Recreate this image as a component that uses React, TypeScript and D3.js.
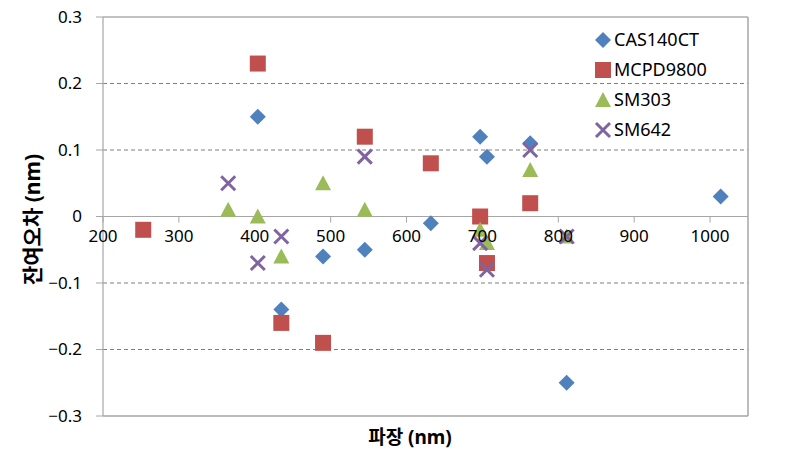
import React from "react";
import * as d3 from "d3";

const seriesNames = ["CAS140CT", "MCPD9800", "SM303", "SM642"];
const seriesColors = ["#4F81BD", "#C0504D", "#9BBB59", "#8064A2"];
const seriesShapes = ["diamond", "square", "triangle", "cross"];

const casX = [404, 435, 490, 545, 632, 697, 706, 763, 811, 1014];
const casY = [0.15, -0.14, -0.06, -0.05, -0.01, 0.12, 0.09, 0.11, -0.25, 0.03];
const mcpdX = [253, 404, 435, 490, 545, 632, 697, 706, 763];
const mcpdY = [-0.02, 0.23, -0.16, -0.19, 0.12, 0.08, 0.0, -0.07, 0.02];
const sm303X = [365, 404, 435, 490, 545, 697, 706, 763, 811];
const sm303Y = [0.01, 0.0, -0.06, 0.05, 0.01, -0.02, -0.04, 0.07, -0.03];
const sm642X = [365, 404, 435, 545, 697, 706, 763, 811];
const sm642Y = [0.05, -0.07, -0.03, 0.09, -0.04, -0.08, 0.1, -0.03];

const xTicks = [200, 300, 400, 500, 600, 700, 800, 900, 1000];
const yTicks = [-0.3, -0.2, -0.1, 0, 0.1, 0.2, 0.3];
const xTitle = "파장 (nm)";
const yTitle = "잔여오차 (nm)";

const W = 787;
const H = 463;
const left = 103, right = 748, top = 17, bottom = 416;

function Marker({ shape, color, cx, cy }: { shape: string; color: string; cx: number; cy: number }) {
  if (shape === "diamond") {
    const r = 8;
    return <path d={`M${cx},${cy - r}L${cx + r},${cy}L${cx},${cy + r}L${cx - r},${cy}Z`} fill={color} />;
  }
  if (shape === "square") {
    const r = 8;
    return <rect x={cx - r} y={cy - r} width={2 * r} height={2 * r} fill={color} />;
  }
  if (shape === "triangle") {
    const hw = 8;
    return <path d={`M${cx},${cy - 8}L${cx + hw},${cy + 7}L${cx - hw},${cy + 7}Z`} fill={color} />;
  }
  const r = 7;
  return (
    <path
      d={`M${cx - r},${cy - r}L${cx + r},${cy + r}M${cx - r},${cy + r}L${cx + r},${cy - r}`}
      stroke={color}
      strokeWidth={3}
      fill="none"
    />
  );
}

export default function App() {
  const x = d3.scaleLinear().domain([200, 1050]).range([left, right]);
  const y = d3.scaleLinear().domain([-0.3, 0.3]).range([bottom, top]);
  const xs = [casX, mcpdX, sm303X, sm642X];
  const ys = [casY, mcpdY, sm303Y, sm642Y];
  const font = "'Noto Sans', 'Noto Sans CJK KR', sans-serif";
  const fmt = (v: number) => (Math.abs(v) < 1e-9 ? "0" : d3.format(".1f")(v));
  const y0 = y(0);

  return (
    <svg width={W} height={H} style={{ position: "fixed", left: 0, top: 0, background: "#fff" }} fontFamily={font}>
      <rect x={0} y={0} width={W} height={H} fill="#fff" />
      {/* gridlines */}
      {yTicks.filter((t) => t !== 0 && Math.abs(t) < 0.29).map((t) => (
        <line key={"g" + t} x1={left} x2={right} y1={y(t)} y2={y(t)} stroke="#7f7f7f" strokeWidth={1} strokeDasharray="4,3" />
      ))}
      <line x1={left} x2={right} y1={y(0.3)} y2={y(0.3)} stroke="#868686" strokeWidth={1.2} />
      <line x1={left} x2={right} y1={y(-0.3)} y2={y(-0.3)} stroke="#a6a6a6" strokeWidth={1.5} />
      <line x1={right} x2={right} y1={top} y2={bottom} stroke="#a6a6a6" strokeWidth={1.5} />
      {/* y axis */}
      <line x1={left} x2={left} y1={top} y2={bottom} stroke="#a6a6a6" strokeWidth={1.2} />
      {yTicks.map((t) => (
        <g key={"yt" + t}>
          <line x1={left - 7} x2={left} y1={y(t)} y2={y(t)} stroke="#a6a6a6" strokeWidth={1} />
          <text x={82} y={y(t)} dy="0.35em" textAnchor="end" fontSize={17} fill="#000">
            {fmt(t)}
          </text>
        </g>
      ))}
      {/* x axis at 0 */}
      <line x1={left} x2={right} y1={y0} y2={y0} stroke="#a6a6a6" strokeWidth={1.2} />
      {xTicks.map((t) => (
        <line key={"xt" + t} x1={x(t)} x2={x(t)} y1={y0} y2={y0 + 6} stroke="#a6a6a6" strokeWidth={1} />
      ))}
      {/* points */}
      {seriesNames.map((name, si) => (
        <g key={name}>
          {xs[si].map((xv, i) => (
            <Marker key={i} shape={seriesShapes[si]} color={seriesColors[si]} cx={x(xv)} cy={y(ys[si][i])} />
          ))}
        </g>
      ))}
      {xTicks.map((t) => (
        <text key={"xl" + t} x={x(t)} y={y0 + 20} dy="0.35em" textAnchor="middle" fontSize={17} fill="#000">
          {t}
        </text>
      ))}
      {/* legend */}
      {seriesNames.map((name, si) => (
        <g key={"lg" + name}>
          <Marker shape={seriesShapes[si]} color={seriesColors[si]} cx={603} cy={40 + si * 30} />
          <text x={614} y={40 + si * 30} dy="0.35em" fontSize={18} fill="#000">
            {name}
          </text>
        </g>
      ))}
      {/* titles */}
      <text x={410} y={437} dy="0.35em" textAnchor="middle" fontSize={19} fontWeight="bold" fill="#000">
        {xTitle}
      </text>
      <text
        transform={`translate(33, ${(top + bottom) / 2 + 3}) rotate(-90)`}
        dy="0.35em"
        textAnchor="middle"
        fontSize={21}
        fontWeight="bold"
        fill="#000"
      >
        {yTitle}
      </text>
    </svg>
  );
}
